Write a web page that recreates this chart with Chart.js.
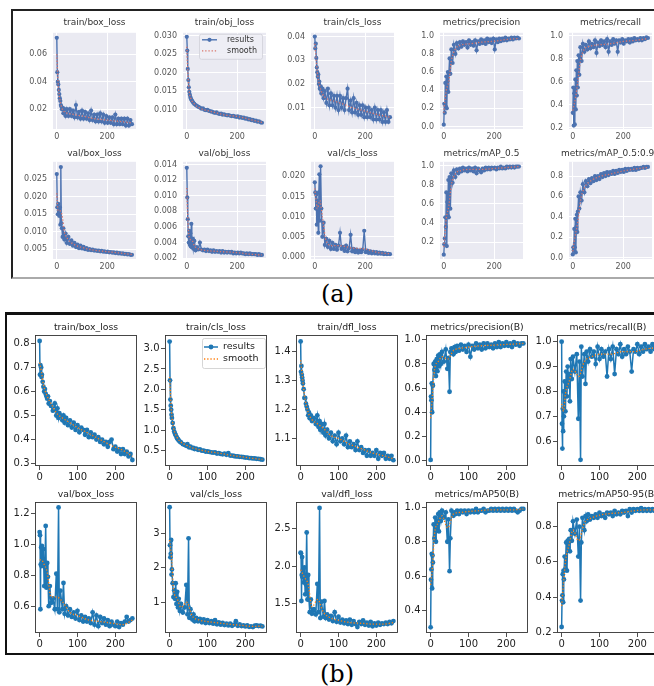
<!DOCTYPE html>
<html>
<head>
<meta charset="utf-8">
<script src="https://cdn.jsdelivr.net/npm/chart.js@4.4.1/dist/chart.umd.min.js"></script>
<style>
  html, body { margin: 0; padding: 0; width: 654px; height: 686px; overflow: hidden; background: #fff; }
  .frame { position: absolute; box-sizing: border-box; }
  .ttl { position: absolute; white-space: nowrap; text-align: center; font-family: 'DejaVu Sans'; }
  .cap { position: absolute; font-family: 'DejaVu Serif'; font-size: 24px; color: #000; line-height: 26px; }
  canvas { position: absolute; }
</style>
</head>
<body>
<div class="frame" style="left:11px;top:9px;width:700px;height:270px;border-top:2px solid #222;border-left:2px solid #222;border-bottom:2px solid #aaa;"></div>
<div class="frame" style="left:5px;top:312px;width:700px;height:343px;border-top:3px solid #111;border-left:2px solid #111;border-bottom:2px solid #111;"></div>
<div class="cap" style="left:321px;top:281px;">(a)</div>
<div class="cap" style="left:320px;top:661px;">(b)</div>

<script>
// ---------- panel (a): 300 epochs ----------
const epochsA = [0,2,4,6,8,10,12,14,16,18,20,23,26,30,35,40,
  46,52,58,64,70,76,82,88,94,100,106,112,118,124,
  130,136,142,148,154,160,166,172,178,184,190,196,202,208,
  214,220,226,232,238,244,250,256,262,268,274,280,286,292,298];
const smoothEpochsA = [0,5,10,20,30,45,70,100,150,200,250,298];
const xTicksA = ['0','200'];

const aTrainBox = [0.072,0.047,0.040,0.038,0.034,0.031,0.028,0.026,0.023,0.022,0.020,0.021,0.017,0.020,0.015,0.020,
  0.015,0.020,0.015,0.019,0.014,0.023,0.014,0.018,0.013,0.019,0.013,0.018,0.013,0.017,
  0.012,0.019,0.012,0.016,0.011,0.016,0.011,0.017,0.011,0.016,0.010,0.015,0.010,0.014,
  0.010,0.014,0.009,0.016,0.009,0.013,0.009,0.013,0.009,0.013,0.008,0.013,0.008,0.012,0.009];
const aTrainBoxSmooth = [0.060,0.040,0.030,0.021,0.018,0.017,0.016,0.015,0.013,0.012,0.011,0.010];
const aTrainBoxTicks = ['0.02','0.04','0.06'];

const aTrainObj = [0.0297,0.026,0.021,0.018,0.016,0.0148,0.0140,0.0134,0.0130,0.0127,0.0124,0.0121,0.0118,0.0115,0.0112,0.0110,
  0.0107,0.0105,0.0102,0.0103,0.0099,0.0098,0.0099,0.0096,0.0095,0.0094,0.0092,0.0091,0.0092,0.0089,
  0.0088,0.0089,0.0086,0.0087,0.0085,0.0084,0.0085,0.0083,0.0082,0.0083,0.0081,0.0080,0.0081,0.0078,
  0.0079,0.0077,0.0078,0.0075,0.0076,0.0073,0.0074,0.0071,0.0072,0.0069,0.0070,0.0067,0.0068,0.0065,0.0064];
const aTrainObjSmooth = [0.027,0.019,0.0148,0.0124,0.0115,0.0106,0.0099,0.0094,0.0085,0.0081,0.0073,0.0065];
const aTrainObjTicks = ['0.010','0.015','0.020','0.025','0.030'];

const aTrainCls = [0.040,0.035,0.037,0.031,0.027,0.025,0.023,0.024,0.020,0.021,0.018,0.019,0.016,0.018,0.014,0.017,
  0.012,0.018,0.011,0.016,0.011,0.015,0.010,0.015,0.009,0.015,0.010,0.014,0.009,0.014,
  0.018,0.009,0.013,0.008,0.014,0.008,0.012,0.007,0.011,0.007,0.011,0.006,0.010,0.006,
  0.010,0.006,0.009,0.005,0.010,0.005,0.009,0.005,0.009,0.004,0.008,0.004,0.009,0.004,0.006];
const aTrainClsSmooth = [0.037,0.031,0.025,0.019,0.016,0.014,0.013,0.012,0.010,0.0085,0.007,0.006];
const aTrainClsTicks = ['0.01','0.02','0.03','0.04'];

const aPrecision = [0.02,0.25,0.15,0.48,0.22,0.55,0.20,0.50,0.60,0.38,0.58,0.75,0.58,0.85,0.70,0.90,
  0.80,0.92,0.86,0.93,0.88,0.94,0.90,0.93,0.87,0.95,0.90,0.93,0.89,0.95,
  0.84,0.94,0.91,0.96,0.92,0.95,0.91,0.97,0.93,0.96,0.92,0.97,0.85,0.96,
  0.93,0.97,0.94,0.97,0.95,0.98,0.95,0.97,0.96,0.98,0.96,0.98,0.97,0.98,0.97];
const aPrecisionSmooth = [0.15,0.30,0.40,0.50,0.72,0.85,0.90,0.91,0.93,0.94,0.96,0.97];
const aPrecisionTicks = ['0.0','0.2','0.4','0.6','0.8','1.0'];

const aRecall = [0.33,0.55,0.22,0.50,0.23,0.62,0.36,0.70,0.48,0.78,0.55,0.83,0.66,0.90,0.78,0.93,
  0.86,0.92,0.88,0.95,0.89,0.93,0.90,0.96,0.85,0.94,0.91,0.96,0.92,0.95,
  0.90,0.97,0.86,0.95,0.92,0.97,0.93,0.96,0.86,0.96,0.94,0.97,0.93,0.96,
  0.95,0.97,0.94,0.97,0.95,0.98,0.96,0.97,0.96,0.98,0.96,0.98,0.97,0.985,0.98];
const aRecallSmooth = [0.35,0.40,0.45,0.60,0.78,0.88,0.91,0.92,0.93,0.95,0.96,0.975];
const aRecallTicks = ['0.2','0.4','0.6','0.8','1.0'];

const aValBox = [0.0265,0.017,0.015,0.018,0.016,0.0145,0.017,0.012,0.0285,0.0125,0.011,0.0085,0.011,0.0078,0.0095,0.0068,
  0.0085,0.0065,0.0075,0.0060,0.0068,0.0056,0.0063,0.0053,0.0060,0.0052,0.0057,0.0050,0.0053,0.0048,
  0.0050,0.0047,0.0049,0.0046,0.0047,0.0045,0.0046,0.0044,0.0045,0.0043,0.0044,0.0042,0.0043,0.0041,
  0.0042,0.0040,0.0041,0.0039,0.0040,0.0038,0.0039,0.0037,0.0038,0.0036,0.0037,0.0035,0.0036,0.0034,0.0034];
const aValBoxSmooth = [0.021,0.016,0.016,0.015,0.010,0.0078,0.0063,0.0055,0.0047,0.0043,0.0039,0.0035];
const aValBoxTicks = ['0.005','0.010','0.015','0.020','0.025'];

const aValObj = [0.0136,0.0098,0.0070,0.0048,0.0040,0.0055,0.0037,0.0052,0.0035,0.0064,0.0034,0.0045,0.0032,0.0042,0.0030,0.0034,
  0.0031,0.0040,0.0031,0.0030,0.0031,0.0029,0.0031,0.0029,0.0030,0.0028,0.0030,0.0028,0.0029,0.0028,
  0.0029,0.0027,0.0029,0.0027,0.0028,0.0027,0.0028,0.0027,0.0028,0.0026,0.0027,0.0026,0.0027,0.0026,
  0.0027,0.0026,0.0026,0.0025,0.0026,0.0025,0.0026,0.0025,0.0025,0.0025,0.0025,0.0024,0.0025,0.0024,0.0024];
const aValObjSmooth = [0.011,0.0065,0.0046,0.0043,0.0036,0.0032,0.0030,0.0029,0.0028,0.0027,0.0025,0.0024];
const aValObjTicks = ['0.002','0.004','0.006','0.008','0.010','0.012','0.014'];

const aValCls = [0.0185,0.016,0.012,0.0155,0.008,0.014,0.0125,0.006,0.016,0.0205,0.009,0.0225,0.012,0.005,0.0085,0.003,
  0.0045,0.0025,0.004,0.002,0.0035,0.002,0.003,0.0018,0.0028,0.006,0.002,0.0025,0.0015,0.0028,
  0.0014,0.0022,0.0055,0.0014,0.002,0.0012,0.0018,0.0011,0.0016,0.0012,0.0018,0.0065,0.0012,0.0016,
  0.001,0.0014,0.0009,0.0013,0.0009,0.0012,0.0008,0.0011,0.0008,0.001,0.0007,0.0009,0.0007,0.0008,0.0007];
const aValClsSmooth = [0.017,0.014,0.012,0.014,0.010,0.004,0.0028,0.0028,0.0022,0.002,0.0011,0.0008];
const aValClsTicks = ['0.000','0.005','0.010','0.015','0.020'];

const aMap50 = [0.07,0.18,0.24,0.46,0.36,0.72,0.16,0.62,0.48,0.85,0.46,0.88,0.55,0.92,0.82,0.95,
  0.88,0.96,0.92,0.97,0.94,0.98,0.95,0.97,0.94,0.98,0.95,0.97,0.94,0.98,
  0.92,0.97,0.95,0.93,0.97,0.95,0.98,0.96,0.98,0.96,0.98,0.97,0.98,0.96,
  0.98,0.97,0.99,0.97,0.98,0.97,0.99,0.98,0.99,0.98,0.99,0.98,0.99,0.99,0.99];
const aMap50Smooth = [0.15,0.30,0.45,0.58,0.80,0.91,0.95,0.96,0.96,0.97,0.98,0.99];
const aMap50Ticks = ['0.2','0.4','0.6','0.8','1.0'];

const aMap5095 = [0.03,0.10,0.07,0.28,0.10,0.38,0.05,0.30,0.42,0.25,0.45,0.60,0.48,0.64,0.56,0.72,
  0.64,0.75,0.70,0.77,0.73,0.78,0.75,0.80,0.76,0.80,0.77,0.82,0.79,0.83,
  0.80,0.84,0.81,0.84,0.82,0.85,0.82,0.85,0.83,0.86,0.84,0.86,0.84,0.87,
  0.85,0.87,0.86,0.87,0.86,0.88,0.86,0.88,0.87,0.88,0.88,0.89,0.88,0.89,0.89];
const aMap5095Smooth = [0.06,0.15,0.22,0.35,0.55,0.68,0.75,0.79,0.82,0.85,0.87,0.885];
const aMap5095Ticks = ['0.0','0.2','0.4','0.6','0.8'];

// ---------- panel (b): 246 epochs ----------
const epochsB = [0,1,2,3,4,5,6,8,10,12,14,16,18,20,22,24,
  27,30,35,40,44,47,50,52,55,60,63,66,70,
  75,80,85,90,95,100,105,110,115,120,125,130,135,140,145,150,155,160,
  165,170,175,180,185,190,195,200,205,210,215,220,225,230,235,240,245];
const smoothEpochsB = [0,5,10,20,30,45,60,80,100,130,160,190,220,245];
const xTicksB = ['0','100','200'];

const bTrainBox = [0.81,0.67,0.71,0.67,0.70,0.66,0.67,0.64,0.62,0.60,0.61,0.59,0.58,0.57,0.58,0.55,
  0.56,0.54,0.52,0.55,0.50,0.53,0.49,0.51,0.50,0.48,0.50,0.47,0.49,
  0.46,0.48,0.45,0.47,0.44,0.46,0.43,0.45,0.44,0.42,0.44,0.41,0.43,0.41,0.42,0.40,0.41,0.39,
  0.40,0.38,0.39,0.37,0.39,0.40,0.36,0.37,0.35,0.36,0.34,0.36,0.34,0.35,0.33,0.34,0.315];
const bTrainBoxSmooth = [0.72,0.68,0.63,0.58,0.55,0.51,0.49,0.47,0.45,0.425,0.40,0.375,0.355,0.33];
const bTrainBoxTicks = ['0.3','0.4','0.5','0.6','0.7','0.8'];

const bTrainCls = [3.17,2.22,1.75,1.60,1.50,1.38,1.30,1.18,1.05,0.97,0.92,0.88,0.84,0.80,0.78,0.75,
  0.72,0.70,0.66,0.64,0.62,0.66,0.60,0.58,0.60,0.56,0.57,0.54,0.55,
  0.52,0.53,0.50,0.50,0.48,0.48,0.47,0.46,0.45,0.46,0.43,0.44,0.42,0.41,0.43,0.40,0.44,0.38,
  0.38,0.37,0.36,0.36,0.35,0.35,0.34,0.33,0.33,0.32,0.32,0.31,0.31,0.30,0.30,0.29,0.28];
const bTrainClsSmooth = [2.3,1.45,1.08,0.82,0.71,0.63,0.57,0.52,0.48,0.44,0.39,0.35,0.31,0.285];
const bTrainClsTicks = ['0.5','1.0','1.5','2.0','2.5','3.0'];

const bTrainDfl = [1.435,1.33,1.35,1.32,1.31,1.30,1.29,1.27,1.24,1.24,1.22,1.21,1.20,1.18,1.19,1.17,
  1.18,1.16,1.17,1.15,1.18,1.14,1.16,1.13,1.15,1.12,1.15,1.11,1.13,
  1.10,1.12,1.09,1.11,1.08,1.12,1.09,1.10,1.08,1.11,1.07,1.09,1.07,1.08,1.06,1.09,1.06,1.07,
  1.05,1.06,1.04,1.06,1.04,1.05,1.04,1.06,1.03,1.05,1.04,1.05,1.03,1.04,1.03,1.04,1.025];
const bTrainDflSmooth = [1.37,1.31,1.25,1.19,1.165,1.15,1.135,1.11,1.10,1.08,1.065,1.05,1.04,1.03];
const bTrainDflTicks = ['1.1','1.2','1.3','1.4'];

const bPrecision = [0.005,0.53,0.50,0.64,0.40,0.63,0.62,0.80,0.75,0.82,0.70,0.84,0.74,0.87,0.78,0.88,
  0.80,0.90,0.82,0.92,0.76,0.85,0.57,0.90,0.93,0.88,0.94,0.90,0.95,
  0.91,0.96,0.92,0.95,0.90,0.96,0.86,0.95,0.92,0.97,0.93,0.96,0.92,0.97,0.93,0.97,0.94,0.96,
  0.93,0.97,0.94,0.98,0.94,0.97,0.95,0.98,0.95,0.97,0.94,0.98,0.96,0.97,0.95,0.97,0.97];
const bPrecisionSmooth = [0.35,0.55,0.75,0.82,0.86,0.84,0.91,0.93,0.94,0.95,0.955,0.96,0.965,0.97];
const bPrecisionTicks = ['0.0','0.2','0.4','0.6','0.8','1.0'];

const bRecall = [1.0,0.67,0.57,0.73,0.64,0.80,0.70,0.84,0.72,0.88,0.78,0.90,0.82,0.87,0.76,0.93,
  0.85,0.94,0.88,0.95,0.69,0.92,0.525,0.98,0.86,0.95,0.83,0.96,0.92,
  0.97,0.94,0.96,0.91,0.98,0.93,0.97,0.94,0.96,0.86,0.97,0.93,0.98,0.87,0.97,0.95,0.99,0.94,
  0.97,0.95,0.98,0.96,0.88,0.97,0.96,0.99,0.95,0.98,0.96,0.99,0.97,0.98,0.96,0.99,0.97];
const bRecallSmooth = [0.75,0.72,0.79,0.84,0.89,0.86,0.92,0.94,0.95,0.95,0.96,0.96,0.97,0.975];
const bRecallTicks = ['0.6','0.7','0.8','0.9','1.0'];

const bValBox = [1.08,1.06,0.58,0.87,0.98,0.86,0.99,0.88,0.97,0.73,0.85,1.12,0.72,0.88,0.79,0.60,
  0.73,0.62,0.65,0.58,0.81,0.58,1.24,0.56,0.70,0.58,0.75,0.55,0.60,
  0.54,0.58,0.53,0.56,0.52,0.57,0.51,0.54,0.50,0.53,0.50,0.52,0.49,0.56,0.48,0.54,0.47,0.53,
  0.49,0.52,0.48,0.51,0.47,0.50,0.48,0.47,0.50,0.465,0.49,0.48,0.50,0.53,0.50,0.51,0.52];
const bValBoxSmooth = [0.90,0.90,0.88,0.82,0.66,0.66,0.63,0.56,0.54,0.51,0.50,0.49,0.48,0.51];
const bValBoxTicks = ['0.6','0.8','1.0','1.2'];

const bValCls = [3.75,2.65,2.30,2.40,2.80,1.80,1.95,1.55,1.15,1.35,1.10,1.55,0.95,1.30,0.85,1.10,
  0.75,0.95,0.70,0.85,1.50,0.65,2.85,0.55,0.80,0.50,0.65,0.45,0.55,
  0.45,0.52,0.42,0.50,0.40,0.48,0.40,0.45,0.38,0.48,0.36,0.42,0.35,0.40,0.34,0.38,0.33,0.38,
  0.32,0.35,0.45,0.32,0.36,0.31,0.33,0.30,0.33,0.29,0.30,0.28,0.32,0.33,0.31,0.32,0.30];
const bValClsSmooth = [2.8,2.3,1.4,1.1,0.85,1.0,0.6,0.48,0.44,0.40,0.36,0.33,0.30,0.31];
const bValClsTicks = ['1','2','3'];

const bValDfl = [2.18,2.17,1.53,1.88,2.12,1.85,1.95,1.78,1.98,1.62,1.75,2.45,1.55,1.88,1.55,1.38,
  1.55,1.36,1.42,1.35,1.76,1.38,2.78,1.30,1.52,1.32,1.53,1.30,1.35,
  1.28,1.33,1.26,1.38,1.25,1.32,1.24,1.28,1.23,1.27,1.22,1.28,1.21,1.26,1.22,1.18,1.25,1.22,
  1.27,1.21,1.24,1.20,1.25,1.19,1.23,1.20,1.24,1.21,1.23,1.22,1.24,1.22,1.25,1.23,1.26];
const bValDflSmooth = [1.95,1.90,1.85,1.75,1.45,1.55,1.38,1.30,1.27,1.24,1.23,1.22,1.22,1.24];
const bValDflTicks = ['1.5','2.0','2.5'];

const bMap50 = [0.305,0.58,0.64,0.73,0.53,0.72,0.68,0.90,0.82,0.94,0.80,0.92,0.88,0.96,0.86,0.97,
  0.92,0.98,0.94,0.97,0.80,0.93,0.63,0.82,0.98,0.95,0.97,0.96,0.98,
  0.96,0.98,0.97,0.98,0.96,0.98,0.97,0.98,0.97,0.99,0.97,0.98,0.98,0.99,0.97,0.98,0.98,0.99,
  0.98,0.99,0.98,0.99,0.98,0.99,0.98,0.99,0.98,0.99,0.98,0.99,0.98,0.97,0.98,0.99,0.99];
const bMap50Smooth = [0.55,0.66,0.84,0.91,0.95,0.88,0.96,0.97,0.975,0.98,0.985,0.985,0.985,0.99];
const bMap50Ticks = ['0.4','0.6','0.8','1.0'];

const bMap5095 = [0.23,0.38,0.41,0.53,0.37,0.55,0.50,0.63,0.56,0.71,0.55,0.72,0.68,0.73,0.66,0.78,
  0.72,0.83,0.76,0.84,0.63,0.80,0.38,0.71,0.85,0.78,0.86,0.83,0.87,
  0.84,0.86,0.85,0.87,0.85,0.88,0.86,0.87,0.85,0.88,0.87,0.88,0.86,0.89,0.87,0.88,0.87,0.89,
  0.88,0.89,0.86,0.90,0.88,0.90,0.89,0.90,0.89,0.905,0.89,0.90,0.89,0.90,0.89,0.90,0.89];
const bMap5095Smooth = [0.35,0.48,0.60,0.70,0.78,0.72,0.82,0.85,0.865,0.875,0.88,0.89,0.895,0.895];
const bMap5095Ticks = ['0.2','0.4','0.6','0.8'];

// ---------- looks of the two figures ----------
const lookA = {
  lefts: [53, 183, 311, 440, 569], tops: [30, 159], heights: [99, 100], width: 83,
  titleY: [22, 153], yw: 34, pt: 8, pr: 6, xh: 16,
  xMin: -15, xMax: 314, xTicks: xTicksA,
  line: '#4C72B0', smooth: '#D9756A', lineWidth: 1.4, radius: 2.1,
  font: 8, tickColor: '#555', titleFont: 9, titleColor: '#333',
  seaborn: true
};
const lookB = {
  lefts: [35, 165, 296, 426, 557], tops: [335, 502], heights: [131, 131], width: 102,
  titleY: [327, 494], yw: 30, pt: 8, pr: 6, xh: 20,
  xMin: -12.25, xMax: 257.25, xTicks: xTicksB,
  line: '#1f77b4', smooth: '#ff7f0e', lineWidth: 1.5, radius: 2.4,
  font: 10, tickColor: '#222', titleFont: 9.3, titleColor: '#222',
  seaborn: false
};

const plotsA = [
  { title: 'train/box_loss', y: aTrainBox, s: aTrainBoxSmooth, ticks: aTrainBoxTicks, min: 0.0055, max: 0.0757 },
  { title: 'train/obj_loss', y: aTrainObj, s: aTrainObjSmooth, ticks: aTrainObjTicks, min: 0.0047, max: 0.0308, legend: true },
  { title: 'train/cls_loss', y: aTrainCls, s: aTrainClsSmooth, ticks: aTrainClsTicks, min: 0.001, max: 0.0416 },
  { title: 'metrics/precision', y: aPrecision, s: aPrecisionSmooth, ticks: aPrecisionTicks, min: -0.028, max: 1.033 },
  { title: 'metrics/recall', y: aRecall, s: aRecallSmooth, ticks: aRecallTicks, min: 0.19, max: 1.025 },
  { title: 'val/box_loss', y: aValBox, s: aValBoxSmooth, ticks: aValBoxTicks, min: 0.0022, max: 0.030 },
  { title: 'val/obj_loss', y: aValObj, s: aValObjSmooth, ticks: aValObjTicks, min: 0.00188, max: 0.01438 },
  { title: 'val/cls_loss', y: aValCls, s: aValClsSmooth, ticks: aValClsTicks, min: -0.0005, max: 0.0236 },
  { title: 'metrics/mAP_0.5', y: aMap50, s: aMap50Smooth, ticks: aMap50Ticks, min: 0.025, max: 1.04 },
  { title: 'metrics/mAP_0.5:0.95', y: aMap5095, s: aMap5095Smooth, ticks: aMap5095Ticks, min: -0.015, max: 0.94 }
];
const plotsB = [
  { title: 'train/box_loss', y: bTrainBox, s: bTrainBoxSmooth, ticks: bTrainBoxTicks, min: 0.29, max: 0.835 },
  { title: 'train/cls_loss', y: bTrainCls, s: bTrainClsSmooth, ticks: bTrainClsTicks, min: 0.125, max: 3.33, legend: true },
  { title: 'train/dfl_loss', y: bTrainDfl, s: bTrainDflSmooth, ticks: bTrainDflTicks, min: 1.005, max: 1.457 },
  { title: 'metrics/precision(B)', y: bPrecision, s: bPrecisionSmooth, ticks: bPrecisionTicks, min: -0.045, max: 1.04 },
  { title: 'metrics/recall(B)', y: bRecall, s: bRecallSmooth, ticks: bRecallTicks, min: 0.50, max: 1.027 },
  { title: 'val/box_loss', y: bValBox, s: bValBoxSmooth, ticks: bValBoxTicks, min: 0.426, max: 1.275 },
  { title: 'val/cls_loss', y: bValCls, s: bValClsSmooth, ticks: bValClsTicks, min: 0.11, max: 3.9 },
  { title: 'val/dfl_loss', y: bValDfl, s: bValDflSmooth, ticks: bValDflTicks, min: 1.10, max: 2.86 },
  { title: 'metrics/mAP50(B)', y: bMap50, s: bMap50Smooth, ticks: bMap50Ticks, min: 0.272, max: 1.03 },
  { title: 'metrics/mAP50-95(B)', y: bMap5095, s: bMap5095Smooth, ticks: bMap5095Ticks, min: 0.196, max: 0.94 }
];

// background / box around the plot area
const framePlugin = {
  id: 'frame',
  beforeDraw(chart, args, o) {
    if (!o.fill) return;
    const a = chart.chartArea, ctx = chart.ctx;
    ctx.save();
    ctx.fillStyle = o.fill;
    ctx.fillRect(a.left, a.top, a.width, a.height);
    ctx.restore();
  },
  afterDatasetsDraw(chart, args, o) {
    if (!o.stroke) return;
    const a = chart.chartArea, ctx = chart.ctx;
    ctx.save();
    ctx.strokeStyle = o.stroke;
    ctx.lineWidth = 0.9;
    ctx.strokeRect(a.left + 0.5, a.top + 0.5, a.width - 1, a.height - 1);
    ctx.restore();
  }
};

// small legend inside the plot, like matplotlib's
const legendPlugin = {
  id: 'innerLegend',
  afterDraw(chart, args, o) {
    if (!o.show) return;
    const ctx = chart.ctx, a = chart.chartArea;
    const x = a.left + o.dx, y = a.top + o.dy;
    ctx.save();
    ctx.fillStyle = o.fill;
    ctx.strokeStyle = o.edge;
    ctx.lineWidth = 0.8;
    ctx.beginPath();
    ctx.roundRect(x + 0.5, y + 0.5, o.w, o.h, 2);
    ctx.fill();
    ctx.stroke();
    chart.data.datasets.forEach((d, i) => {
      const ly = y + o.row0 + i * o.rowH;
      ctx.strokeStyle = d.borderColor;
      ctx.lineWidth = d.borderWidth;
      ctx.setLineDash(d.borderDash || []);
      ctx.beginPath();
      ctx.moveTo(x + o.lx0, ly);
      ctx.lineTo(x + o.lx1, ly);
      ctx.stroke();
      ctx.setLineDash([]);
      if (d.pointRadius) {
        ctx.fillStyle = d.borderColor;
        ctx.beginPath();
        ctx.arc(x + (o.lx0 + o.lx1) / 2, ly, d.pointRadius, 0, Math.PI * 2);
        ctx.fill();
      }
      ctx.fillStyle = o.color;
      ctx.font = o.font;
      ctx.textBaseline = 'middle';
      ctx.fillText(d.label, x + o.tx, ly);
    });
    ctx.restore();
  }
};

function addPlot(p, look, epochs, smoothEpochs, idx) {
  const col = idx % 5, row = Math.floor(idx / 5);
  const L = look.lefts[col], T = look.tops[row], W = look.width, H = look.heights[row];
  const cw = W + look.yw + look.pr, ch = H + look.pt + look.xh;

  const cv = document.createElement('canvas');
  cv.width = cw;
  cv.height = ch;
  cv.style.left = (L - look.yw) + 'px';
  cv.style.top = (T - look.pt) + 'px';
  cv.style.width = cw + 'px';
  cv.style.height = ch + 'px';
  document.body.appendChild(cv);

  const t = document.createElement('div');
  t.className = 'ttl';
  t.textContent = p.title;
  t.style.left = (L - 50) + 'px';
  t.style.width = (W + 100) + 'px';
  t.style.top = (look.titleY[row] - 6) + 'px';
  t.style.fontSize = look.titleFont + 'px';
  t.style.lineHeight = '12px';
  t.style.color = look.titleColor;
  document.body.appendChild(t);

  const sb = look.seaborn;
  const font = { family: 'DejaVu Sans', size: look.font };
  const grid = sb
    ? { color: '#ffffff', lineWidth: 1, drawTicks: false }
    : { drawOnChartArea: false, drawTicks: true, tickLength: 4, tickColor: '#222', tickWidth: 0.8 };

  new Chart(cv, {
    type: 'line',
    data: {
      datasets: [
        {
          label: 'results',
          data: epochs.map((e, i) => ({ x: e, y: p.y[i] })),
          borderColor: look.line,
          backgroundColor: look.line,
          pointBackgroundColor: look.line,
          borderWidth: look.lineWidth,
          pointRadius: look.radius,
          pointBorderWidth: 0,
          tension: 0,
          order: 1
        },
        {
          label: 'smooth',
          data: smoothEpochs.map((e, i) => ({ x: e, y: p.s[i] })),
          borderColor: look.smooth,
          borderWidth: 1.3,
          borderDash: [1.3, 1.9],
          pointRadius: 0,
          cubicInterpolationMode: 'monotone',
          order: 0
        }
      ]
    },
    options: {
      responsive: false,
      animation: false,
      devicePixelRatio: 1,
      layout: { padding: { top: look.pt, right: look.pr, left: 0, bottom: 0 } },
      plugins: {
        legend: { display: false },
        tooltip: { enabled: false },
        frame: sb ? { fill: '#EAEAF2' } : { stroke: '#333' },
        innerLegend: sb
          ? { show: !!p.legend, dx: 16, dy: 1, w: 63, h: 25, row0: 6, rowH: 11, lx0: 3, lx1: 18, tx: 28,
              fill: 'rgba(238,238,245,0.9)', edge: '#d0d0d8', color: '#333', font: '8px "DejaVu Sans"' }
          : { show: !!p.legend, dx: 37, dy: 3, w: 63, h: 30, row0: 9, rowH: 12, lx0: 2, lx1: 16, tx: 21,
              fill: 'rgba(255,255,255,0.85)', edge: '#ccc', color: '#222', font: '9.5px "DejaVu Sans"' }
      },
      scales: {
        x: {
          type: 'linear',
          min: look.xMin,
          max: look.xMax,
          afterBuildTicks: ax => { ax.ticks = look.xTicks.map(v => ({ value: parseFloat(v) })); },
          afterFit: ax => { ax.height = look.xh; },
          ticks: { callback: (v, i) => look.xTicks[i], autoSkip: false, maxRotation: 0, padding: sb ? 3 : 1, font, color: look.tickColor },
          grid,
          border: { display: false }
        },
        y: {
          type: 'linear',
          min: p.min,
          max: p.max,
          afterBuildTicks: ax => { ax.ticks = p.ticks.map(v => ({ value: parseFloat(v) })); },
          afterFit: ax => { ax.width = look.yw; },
          ticks: { callback: (v, i) => p.ticks[i], autoSkip: false, padding: sb ? 6 : 1.5, font, color: look.tickColor },
          grid,
          border: { display: false }
        }
      }
    },
    plugins: [framePlugin, legendPlugin]
  });
}

plotsA.forEach((p, i) => addPlot(p, lookA, epochsA, smoothEpochsA, i));
plotsB.forEach((p, i) => addPlot(p, lookB, epochsB, smoothEpochsB, i));
</script>
</body>
</html>
